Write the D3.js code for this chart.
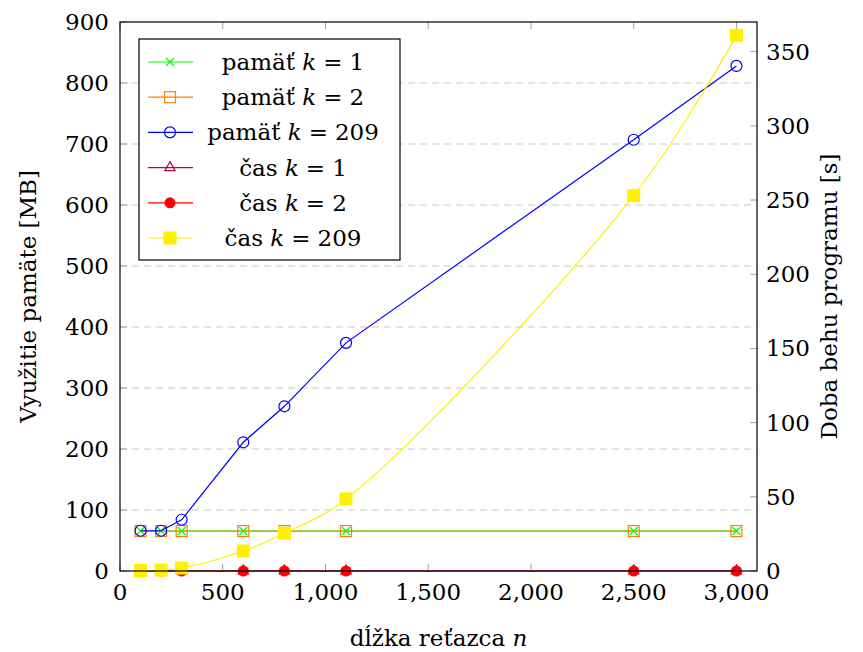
<!DOCTYPE html>
<head>
  <meta charset="utf-8">
  <style>
    body { margin: 0; background: #fff; }
    svg text { font-family: 'DejaVu Serif', serif; fill: #000; }
    .grid line { stroke: #c8c8c8; stroke-width: 1px; stroke-dasharray: 7, 5; }
    .tick-mark { stroke: #a0a0a0; stroke-width: 1px; }
    .frame { fill: none; stroke: #000; stroke-width: 1.2px; }
    path.line { fill: none; stroke-width: 1.2px; }
  </style>
  <script src="https://cdn.jsdelivr.net/npm/d3@7"></script>
</head>
<body>
<div id="graph"></div>
<script>
  // data
  var nVals = [100, 200, 300, 600, 800, 1100, 2500, 3000];
  var memK1 = [65.5, 65.5, 65.5, 65.5, 65.5, 65.5, 65.5, 65.5];
  var memK2 = [65.5, 65.5, 65.5, 65.5, 65.5, 65.5, 65.5, 65.5];
  var memK209 = [66, 66, 84, 211, 270, 374, 707, 828];
  var timeK1 = [0, 0, 0, 0, 0, 0, 0, 0];
  var timeK2 = [0, 0, 0, 0, 0, 0, 0, 0];
  var timeK209 = [0.3, 0.6, 2, 13.5, 25.5, 48.5, 253, 361];

  var xTicks = [0, 500, 1000, 1500, 2000, 2500, 3000];
  var yLeftTicks = [0, 100, 200, 300, 400, 500, 600, 700, 800, 900];
  var yRightTicks = [0, 50, 100, 150, 200, 250, 300, 350];

  var margin = { top: 22, right: 106, bottom: 81, left: 120 };
  var width = 863 - margin.left - margin.right;
  var height = 652 - margin.top - margin.bottom;
  var fs = "23px";

  var x = d3.scaleLinear().domain([0, 3100]).range([0, width]);
  var yL = d3.scaleLinear().domain([0, 900]).range([height, 0]);
  var yR = d3.scaleLinear().domain([0, 370]).range([height, 0]);

  var svg = d3.select("#graph").append("svg")
    .attr("width", 863)
    .attr("height", 652)
    .append("g")
    .attr("transform", "translate(" + margin.left + "," + margin.top + ")");

  // grid from left axis
  svg.append("g").attr("class", "grid")
    .selectAll("line")
    .data(yLeftTicks.filter(d => d > 0 && d < 900))
    .enter().append("line")
    .attr("x1", 0).attr("x2", width)
    .attr("y1", d => yL(d)).attr("y2", d => yL(d));

  var tl = 7;
  // tick marks (inside)
  var ticks = svg.append("g");
  xTicks.forEach(function(d) {
    ticks.append("line").attr("class", "tick-mark")
      .attr("x1", x(d)).attr("x2", x(d)).attr("y1", height).attr("y2", height - tl);
    ticks.append("line").attr("class", "tick-mark")
      .attr("x1", x(d)).attr("x2", x(d)).attr("y1", 0).attr("y2", tl);
  });
  yLeftTicks.forEach(function(d) {
    ticks.append("line").attr("class", "tick-mark")
      .attr("x1", 0).attr("x2", tl).attr("y1", yL(d)).attr("y2", yL(d));
  });
  yRightTicks.forEach(function(d) {
    ticks.append("line").attr("class", "tick-mark")
      .attr("x1", width).attr("x2", width - tl).attr("y1", yR(d)).attr("y2", yR(d));
  });

  // tick labels
  var fmt = d3.format(",");
  svg.append("g").selectAll("text").data(xTicks).enter().append("text")
    .attr("x", d => x(d)).attr("y", height + 29)
    .attr("text-anchor", "middle").style("font-size", fs)
    .text(d => fmt(d));
  svg.append("g").selectAll("text").data(yLeftTicks).enter().append("text")
    .attr("x", -11).attr("y", d => yL(d) + 8)
    .attr("text-anchor", "end").style("font-size", fs)
    .text(d => d);
  svg.append("g").selectAll("text").data(yRightTicks).enter().append("text")
    .attr("x", width + 9).attr("y", d => yR(d) + 8)
    .attr("text-anchor", "start").style("font-size", fs)
    .text(d => d);

  // axis titles
  svg.append("text")
    .attr("transform", "translate(" + (-84) + "," + (height / 2) + ") rotate(-90)")
    .attr("text-anchor", "middle").style("font-size", fs)
    .text("Využitie pamäte [MB]");
  svg.append("text")
    .attr("transform", "translate(" + (width + 80) + "," + (height / 2) + ") rotate(-90)")
    .attr("text-anchor", "middle").style("font-size", fs)
    .text("Doba behu programu [s]");
  var xl = svg.append("text")
    .attr("x", width / 2).attr("y", height + 75)
    .attr("text-anchor", "middle").style("font-size", fs);
  xl.append("tspan").text("dĺžka reťazca ");
  xl.append("tspan").style("font-style", "italic").text("n");

  // series
  var series = [
    { name: "pamäť", k: "1", vals: memK1, y: yL, color: "#00ff00", marker: "x", opacity: 1 },
    { name: "pamäť", k: "2", vals: memK2, y: yL, color: "#ff8000", marker: "square", opacity: 0.6 },
    { name: "pamäť", k: "209", vals: memK209, y: yL, color: "#0000ff", marker: "circle", opacity: 1 },
    { name: "čas", k: "1", vals: timeK1, y: yR, color: "#bf0040", marker: "triangle", opacity: 1 },
    { name: "čas", k: "2", vals: timeK2, y: yR, color: "#ff0000", marker: "dot", opacity: 0.65 },
    { name: "čas", k: "209", vals: timeK209, y: yR, color: "#fff000", marker: "fsquare", opacity: 1, smooth: true }
  ];

  function drawMarker(g, type, color, cx, cy) {
    if (type == "x") {
      g.append("path").attr("d", "M-4,-4L4,4M-4,4L4,-4")
        .attr("transform", "translate(" + cx + "," + cy + ")")
        .attr("stroke", color).attr("stroke-width", 1.2).attr("fill", "none");
    } else if (type == "square") {
      g.append("rect").attr("x", cx - 5.5).attr("y", cy - 5.5).attr("width", 11).attr("height", 11)
        .attr("fill", "none").attr("stroke", color).attr("stroke-width", 1.2);
    } else if (type == "circle") {
      g.append("circle").attr("cx", cx).attr("cy", cy).attr("r", 5.5)
        .attr("fill", "none").attr("stroke", color).attr("stroke-width", 1.2);
    } else if (type == "triangle") {
      g.append("path").attr("d", "M0,-6L5.2,3L-5.2,3Z")
        .attr("transform", "translate(" + cx + "," + cy + ")")
        .attr("fill", "none").attr("stroke", color).attr("stroke-width", 1.2);
    } else if (type == "dot") {
      g.append("circle").attr("cx", cx).attr("cy", cy).attr("r", 5.5).attr("fill", color);
    } else if (type == "fsquare") {
      g.append("rect").attr("x", cx - 6.5).attr("y", cy - 6.5).attr("width", 13).attr("height", 13)
        .attr("fill", color);
    }
  }

  series.forEach(function(s) {
    var pts = nVals.map((n, i) => [n, s.vals[i]]);
    var line = d3.line()
      .x(d => x(d[0]))
      .y(d => s.y(d[1]))
      .curve(s.smooth ? d3.curveCatmullRom.alpha(0.5) : d3.curveLinear);
    svg.append("path").datum(pts).attr("class", "line")
      .style("stroke", s.color).style("stroke-opacity", s.opacity)
      .attr("d", line);
    var mg = svg.append("g");
    pts.forEach(function(p) {
      drawMarker(mg, s.marker, s.color, x(p[0]), s.y(p[1]));
    });
  });

  // frame
  svg.append("rect").attr("class", "frame")
    .attr("width", width).attr("height", height);

  // legend
  var lx = 139 - margin.left, ly = 39 - margin.top;
  var legend = svg.append("g").attr("transform", "translate(" + lx + "," + ly + ")");
  legend.append("rect").attr("width", 261).attr("height", 221)
    .attr("fill", "#fff").attr("stroke", "#000").attr("stroke-width", 1.2);
  series.forEach(function(s, i) {
    var cy = 23 + i * 35.2;
    legend.append("line").attr("x1", 9).attr("x2", 54).attr("y1", cy).attr("y2", cy)
      .attr("stroke", s.color).attr("stroke-width", 1.2);
    drawMarker(legend, s.marker, s.color, 31, cy);
    var t = legend.append("text").attr("x", 154).attr("y", cy + 8)
      .attr("text-anchor", "middle").style("font-size", fs);
    t.append("tspan").text(s.name + " ");
    t.append("tspan").style("font-style", "italic").text("k");
    t.append("tspan").attr("dx", 7).text("=");
    t.append("tspan").attr("dx", 7).text(s.k);
  });
</script>
</body>
</html>
